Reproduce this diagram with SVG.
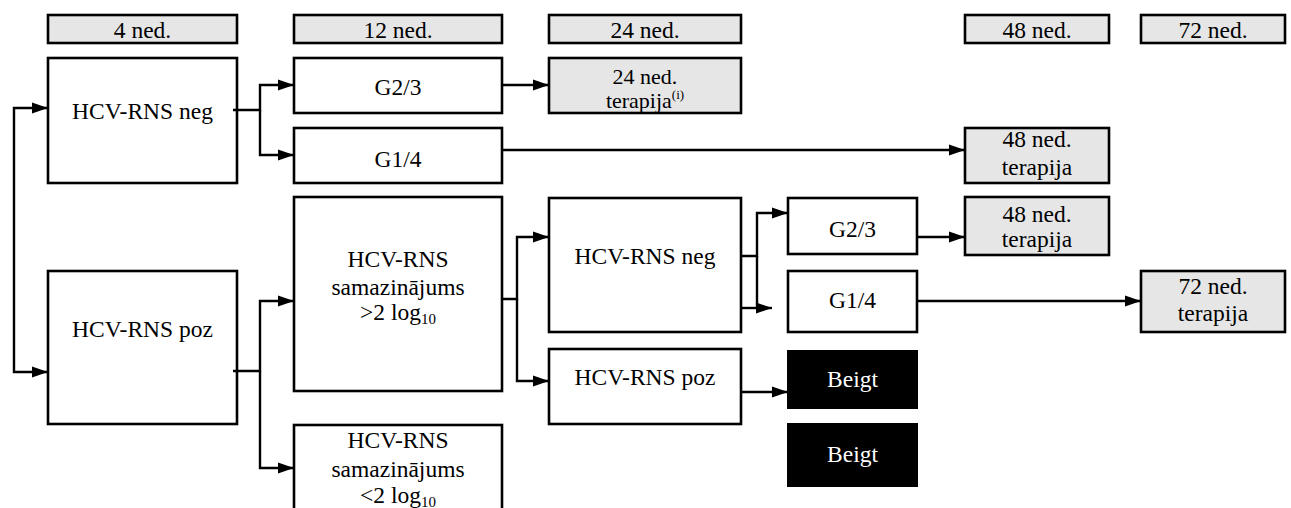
<svg xmlns="http://www.w3.org/2000/svg" width="1291" height="508" viewBox="0 0 1291 508">
<defs>
<marker id="ah" markerUnits="userSpaceOnUse" markerWidth="17" markerHeight="13" refX="16" refY="6" orient="auto">
<path d="M0,0.5 L16,6 L0,11.5 z" fill="#000"/>
</marker>
<style>
.b{fill:#fff;stroke:#000;stroke-width:2.6}
.g{fill:#e6e6e6;stroke:#000;stroke-width:2.6}
.k{fill:#000;stroke:#000;stroke-width:2}
text{font-family:"Liberation Serif","Times New Roman",serif;font-size:23.5px;fill:#000;text-anchor:middle}
.s{font-size:22px}
.w{fill:#fff}
.c{fill:none;stroke:#000;stroke-width:2.4}
.a{marker-end:url(#ah)}
</style>
</defs>
<g id="headers">
<g id="h4"><rect class="g" x="48" y="15" width="189" height="28"/><text x="142.5" y="38">4 ned.</text></g>
<g id="h12"><rect class="g" x="294" y="15" width="208" height="28"/><text x="398" y="38">12 ned.</text></g>
<g id="h24"><rect class="g" x="549" y="15" width="192" height="28"/><text x="645" y="38">24 ned.</text></g>
<g id="h48"><rect class="g" x="965" y="15" width="144" height="28"/><text x="1037" y="38">48 ned.</text></g>
<g id="h72"><rect class="g" x="1141" y="15" width="144" height="28"/><text x="1213" y="38">72 ned.</text></g>
</g>
<g id="neg4"><rect class="b" x="48" y="58" width="189" height="125"/><text x="142.5" y="119">HCV-RNS neg</text></g>
<g id="g23a"><rect class="b" x="294" y="58" width="208" height="55"/><text x="398" y="95">G2/3</text></g>
<g id="g14a"><rect class="b" x="294" y="128" width="208" height="55"/><text x="398" y="167">G1/4</text></g>
<g id="t24"><rect class="g" x="549" y="58" width="192" height="55"/><text class="s" x="645" y="84">24 ned.</text><text class="s" x="645" y="108">terapija<tspan font-size="13" dy="-9">(i)</tspan></text></g>
<g id="t48a"><rect class="g" x="965" y="128" width="144" height="55"/><text x="1037" y="147">48 ned.</text><text x="1037" y="175">terapija</text></g>
<g id="poz4"><rect class="b" x="48" y="271" width="189" height="153"/><text x="142.5" y="337">HCV-RNS poz</text></g>
<g id="gt2"><rect class="b" x="294" y="197" width="208" height="194"/><text x="398" y="267">HCV-RNS</text><text x="398" y="295">samazinājums</text><text x="398" y="320">&gt;2 log<tspan font-size="15" dy="4">10</tspan></text></g>
<g id="lt2"><rect class="b" x="294" y="425" width="208" height="90"/><text x="398" y="448">HCV-RNS</text><text x="398" y="477">samazinājums</text><text x="398" y="503">&lt;2 log<tspan font-size="15" dy="4">10</tspan></text></g>
<g id="neg12"><rect class="b" x="549" y="198" width="192" height="134"/><text x="645" y="264">HCV-RNS neg</text></g>
<g id="poz12"><rect class="b" x="549" y="349" width="192" height="75"/><text x="645" y="385">HCV-RNS poz</text></g>
<g id="g23b"><rect class="b" x="788" y="198" width="129" height="56"/><text x="852.5" y="237">G2/3</text></g>
<g id="g14b"><rect class="b" x="788" y="271" width="129" height="61"/><text x="852.5" y="308">G1/4</text></g>
<g id="stop1"><rect class="k" x="788" y="351" width="129" height="57"/><text class="w" x="852.5" y="387">Beigt</text></g>
<g id="stop2"><rect class="k" x="788" y="424" width="129" height="62"/><text class="w" x="852.5" y="462">Beigt</text></g>
<g id="t48b"><rect class="g" x="965" y="197" width="144" height="58"/><text x="1037" y="222">48 ned.</text><text x="1037" y="247">terapija</text></g>
<g id="t72"><rect class="g" x="1141" y="271" width="144" height="61"/><text x="1213" y="294">72 ned.</text><text x="1213" y="321">terapija</text></g>
<g id="connectors">
<path class="c a" d="M14,240 V108 H48"/>
<path class="c a" d="M14,240 V372 H48"/>
<path class="c a" d="M233,110 H260 V85 H294"/>
<path class="c a" d="M260,110 V155 H294"/>
<path class="c a" d="M502,85 H549"/>
<path class="c a" d="M502,150 H965"/>
<path class="c a" d="M233,371 H260 V301 H294"/>
<path class="c a" d="M260,371 V468 H294"/>
<path class="c a" d="M502,299 H517 V237 H549"/>
<path class="c a" d="M517,299 V381 H549"/>
<path class="c a" d="M741,256 H757 V213 H788"/>
<path class="c" d="M757,256 V308"/>
<path class="c a" d="M741,308 H772"/>
<path class="c a" d="M741,392 H788"/>
<path class="c a" d="M917,237 H965"/>
<path class="c a" d="M917,301 H1141"/>
</g>
</svg>
